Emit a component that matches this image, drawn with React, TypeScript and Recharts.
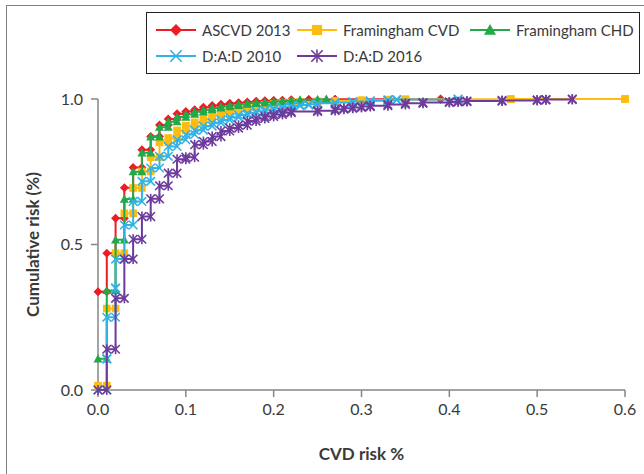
import { Label, Scatter, ScatterChart, XAxis, YAxis } from "recharts"

// cumulative share of patients at each CVD risk level, [risk, cumulative]
const ascvd2013 = [
  [0, 0.338], [0.01, 0.47], [0.02, 0.59], [0.03, 0.695], [0.04, 0.765],
  [0.05, 0.826], [0.06, 0.871], [0.07, 0.911], [0.08, 0.931], [0.09, 0.949],
  [0.1, 0.957], [0.11, 0.963], [0.12, 0.972], [0.13, 0.978], [0.14, 0.982],
  [0.15, 0.985], [0.16, 0.987], [0.17, 0.99], [0.18, 0.992], [0.19, 0.994],
  [0.2, 0.995], [0.21, 0.996], [0.22, 0.997], [0.24, 0.998], [0.27, 0.999],
  [0.39, 1.0],
]

const framinghamCvd = [
  [0, 0.015], [0.01, 0.28], [0.02, 0.47], [0.03, 0.607], [0.04, 0.694],
  [0.05, 0.751], [0.06, 0.8], [0.07, 0.851], [0.08, 0.866], [0.09, 0.892],
  [0.1, 0.908], [0.11, 0.92], [0.12, 0.931], [0.13, 0.946], [0.14, 0.955],
  [0.15, 0.962], [0.16, 0.968], [0.17, 0.973], [0.18, 0.977], [0.19, 0.98],
  [0.2, 0.983], [0.21, 0.986], [0.22, 0.988], [0.23, 0.99], [0.25, 0.992],
  [0.27, 0.994], [0.3, 0.996], [0.33, 0.998], [0.35, 0.999], [0.47, 1.0],
  [0.6, 1.0],
]

const framinghamChd = [
  [0, 0.107], [0.01, 0.342], [0.02, 0.516], [0.03, 0.656], [0.04, 0.75],
  [0.05, 0.815], [0.06, 0.87], [0.07, 0.903], [0.08, 0.922], [0.09, 0.938],
  [0.1, 0.948], [0.11, 0.956], [0.12, 0.963], [0.13, 0.969], [0.14, 0.974],
  [0.15, 0.978], [0.16, 0.982], [0.17, 0.985], [0.18, 0.987], [0.19, 0.989],
  [0.2, 0.991], [0.21, 0.993], [0.22, 0.995], [0.23, 0.997], [0.25, 0.998],
  [0.26, 1.0],
]

const dad2010 = [
  [0, 0], [0.01, 0.107], [0.01, 0.25], [0.02, 0.35], [0.02, 0.45],
  [0.03, 0.567], [0.04, 0.648], [0.05, 0.717], [0.06, 0.763], [0.07, 0.803],
  [0.08, 0.837], [0.09, 0.86], [0.1, 0.878], [0.11, 0.893], [0.12, 0.907],
  [0.13, 0.918], [0.14, 0.928], [0.15, 0.937], [0.16, 0.945], [0.17, 0.952],
  [0.18, 0.958], [0.19, 0.963], [0.2, 0.968], [0.21, 0.972], [0.22, 0.976],
  [0.23, 0.979], [0.24, 0.982], [0.25, 0.985], [0.27, 0.988], [0.29, 0.991],
  [0.31, 0.994], [0.33, 0.997], [0.34, 0.998], [0.41, 1.0],
]

const dad2016 = [
  [0, 0], [0.01, 0.14], [0.02, 0.315], [0.03, 0.45], [0.04, 0.518],
  [0.05, 0.596], [0.06, 0.657], [0.07, 0.702], [0.08, 0.745], [0.09, 0.793],
  [0.1, 0.8], [0.11, 0.843], [0.12, 0.854], [0.13, 0.871], [0.14, 0.89],
  [0.15, 0.9], [0.16, 0.91], [0.17, 0.924], [0.18, 0.933], [0.19, 0.94],
  [0.2, 0.947], [0.21, 0.953], [0.22, 0.957], [0.25, 0.96], [0.27, 0.965],
  [0.28, 0.968], [0.29, 0.971], [0.3, 0.974], [0.31, 0.977], [0.33, 0.981],
  [0.35, 0.985], [0.37, 0.988], [0.4, 0.99], [0.41, 0.991], [0.42, 0.993],
  [0.46, 0.995], [0.5, 0.997], [0.51, 0.998], [0.54, 1.0],
]

const xTicks = [0, 0.1, 0.2, 0.3, 0.4, 0.5, 0.6]
const yTicks = [0, 0.5, 1]

const FONT = "Lato, 'Open Sans', sans-serif"
const AXIS = "#868686"
const TEXT = "#3a3a3a"

// each value holds until the next risk level: emit both corners of the step
const toSteps = (pts: number[][]) => {
  const out: { x: number; y: number }[] = []
  pts.forEach(([x, y], i) => {
    out.push({ x, y })
    if (i < pts.length - 1) out.push({ x: pts[i + 1][0], y })
  })
  return out
}

type MarkerKind = "diamond" | "square" | "triangle" | "x" | "star"

const Marker = ({ kind, cx, cy, color, s = 4.5 }: { kind: MarkerKind; cx: number; cy: number; color: string; s?: number }) => {
  if (kind === "diamond") {
    return <path d={`M${cx},${cy - s}L${cx + s},${cy}L${cx},${cy + s}L${cx - s},${cy}Z`} fill={color} />
  }
  if (kind === "square") {
    const h = s * 0.85
    return <rect x={cx - h} y={cy - h} width={h * 2} height={h * 2} fill={color} />
  }
  if (kind === "triangle") {
    return <path d={`M${cx},${cy - s}L${cx + s},${cy + s * 0.8}L${cx - s},${cy + s * 0.8}Z`} fill={color} />
  }
  const d = s * 0.95
  return (
    <g stroke={color} strokeWidth={1.6}>
      <line x1={cx - d} y1={cy - d} x2={cx + d} y2={cy + d} />
      <line x1={cx - d} y1={cy + d} x2={cx + d} y2={cy - d} />
      {kind === "star" && <line x1={cx} y1={cy - s * 1.1} x2={cx} y2={cy + s * 1.1} />}
    </g>
  )
}

const series = [
  { name: "ASCVD 2013", data: ascvd2013, color: "#ec1c24", kind: "diamond" as MarkerKind },
  { name: "Framingham CVD", data: framinghamCvd, color: "#fdbd10", kind: "square" as MarkerKind },
  { name: "Framingham CHD", data: framinghamChd, color: "#23a84a", kind: "triangle" as MarkerKind },
  { name: "D:A:D 2010", data: dad2010, color: "#33b2e8", kind: "x" as MarkerKind },
  { name: "D:A:D 2016", data: dad2016, color: "#6c3b9c", kind: "star" as MarkerKind },
]

const legendPos = [
  { left: 156, top: 30 },
  { left: 297, top: 30 },
  { left: 470, top: 30 },
  { left: 156, top: 56 },
  { left: 297, top: 56 },
]

const ChartLegend = () => (
  <div
    style={{
      position: "absolute",
      left: 146,
      top: 12,
      width: 492,
      height: 60,
      border: "1.5px solid #222",
      background: "#fff",
    }}
  >
    {series.map((s, i) => (
      <div
        key={s.name}
        style={{
          position: "absolute",
          left: legendPos[i].left - 147,
          top: legendPos[i].top - 13 - 10,
          height: 20,
          display: "flex",
          alignItems: "center",
          fontFamily: FONT,
          fontSize: 15,
          color: TEXT,
          whiteSpace: "nowrap",
        }}
      >
        <svg width={40} height={20} style={{ marginRight: 6 }}>
          <line x1={0} y1={10} x2={40} y2={10} stroke={s.color} strokeWidth={2} />
          <Marker kind={s.kind} cx={20} cy={10} color={s.color} s={6} />
        </svg>
        {s.name}
      </div>
    ))}
  </div>
)

export default function App() {
  return (
    <div
      style={{
        position: "absolute",
        left: 0,
        top: 0,
        width: 644,
        height: 474,
        background: "#fff",
        overflow: "hidden",
      }}
    >
      <div
        style={{
          position: "absolute",
          left: 6,
          top: 5,
          right: 0,
          bottom: 0,
          borderLeft: "1.5px solid #808080",
          borderTop: "1.5px solid #808080",
        }}
      />
      <ScatterChart
        width={644}
        height={474}
        margin={{ top: 99, right: 19, bottom: 0, left: 0 }}
      >
        <XAxis
          type="number"
          dataKey="x"
          domain={[0, 0.6]}
          ticks={xTicks}
          tickFormatter={(v: number) => v.toFixed(1)}
          height={84}
          tickSize={7}
          tickMargin={7}
          stroke={AXIS}
          strokeWidth={1.5}
          tick={{ fill: TEXT, fontSize: 16, fontFamily: FONT }}
        >
          <Label
            value="CVD risk %"
            position="insideBottom"
            offset={14}
            style={{ fontWeight: 700, fontSize: 17, fill: TEXT, fontFamily: FONT }}
          />
        </XAxis>
        <YAxis
          type="number"
          dataKey="y"
          domain={[0, 1]}
          ticks={yTicks}
          tickFormatter={(v: number) => v.toFixed(1)}
          width={98}
          tickSize={7}
          tickMargin={8}
          stroke={AXIS}
          strokeWidth={1.5}
          tick={{ fill: TEXT, fontSize: 16, fontFamily: FONT }}
        >
          <Label
            value="Cumulative risk (%)"
            angle={-90}
            position="insideLeft"
            offset={33}
            style={{ textAnchor: "middle", fontWeight: 700, fontSize: 17, fill: TEXT, fontFamily: FONT }}
          />
        </YAxis>
        {series.map((s) => (
          <Scatter
            key={s.name}
            name={s.name}
            data={toSteps(s.data)}
            line={{ stroke: s.color, strokeWidth: 2 }}
            lineType="joint"
            isAnimationActive={false}
            shape={(p: any) => <Marker kind={s.kind} cx={p.cx} cy={p.cy} color={s.color} />}
          />
        ))}
      </ScatterChart>
      <ChartLegend />
    </div>
  )
}
